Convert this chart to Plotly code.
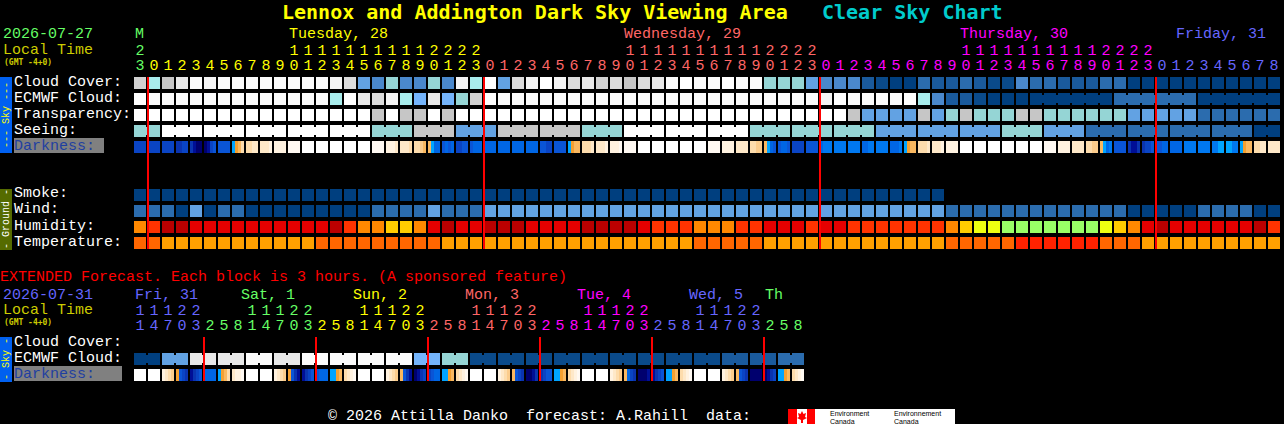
import plotly.graph_objects as go

W, H = 1284, 424
MONO = "Liberation Mono"
TITLE_FONT = "DejaVu Sans Mono"
BLUE, GREEN, YELLOW, RED, MAGENTA = "#6666ff", "#66ff66", "#ffff00", "#ff6666", "#ff00ff"
OLIVE_TEXT = "#cccc00"

# ---- level palettes ----
CLOUD_COLORS = ["#003f7f", "#0a4a8a", "#1a5a9c", "#2b6cae", "#4a88cc", "#62a2e3", "#74b4fb", "#95d5d5",
                "#a8ecec", "#c6c6c6", "#d2d2d2", "#dcdcdc", "#e8e8e8", "#f4f4f4", "#fbfbfb", "#ffffff"]
HUMID_COLORS = ["#99ff66", "#eeff11", "#ffcc00", "#ff8800", "#ff3300", "#e50000", "#bb0000"]
TEMP_COLORS = ["#ffa000", "#ff6600", "#ff2200"]
DARK_COLORS = ["#00006e", "#000f96", "#0a34b0", "#0a44c4", "#0a55d6", "#0066e4", "#0078f0", "#00a4ff",
               "#f5a030", "#f9b860", "#fbcc8c", "#fddcac", "#fee8c8", "#fff2e0", "#fff9f2", "#ffffff"]

# ---- main forecast (one block per hour) ----
cloud_cover = [10, 8, 9, 12, 14, 13, 14, 14, 14, 14, 14, 14, 14, 14, 13, 11, 5, 4, 7, 4, 4, 7, 4, 13, 8, 15, 5, 11, 13, 15,
               13, 11, 12, 10, 11, 9, 11, 12, 14, 15, 14, 14, 15, 14, 14, 7, 7, 7, 5, 4, 4, 4, 2, 1, 0, 0, 3, 2, 2, 3,
               2, 1, 1, 4, 3, 3, 2, 2, 2, 3, 3, 0, 0, 0, 0, 0, 0, 0, 0, 0, 0, 0]
ecmwf_cloud = [15, 14, 14, 14, 14, 14, 14, 14, 14, 14, 14, 14, 14, 14, 8, 15, 12, 11, 13, 8, 6, 12, 6, 7, 10, 15, 14, 14, 14, 14,
               14, 14, 14, 14, 14, 14, 14, 14, 14, 14, 14, 14, 14, 14, 14, 14, 14, 14, 14, 13, 15, 14, 14, 14, 14, 15, 8, 4, 2, 2,
               1, 0, 0, 0, 0, 0, 0, 0, 0, 0, 3, 3, 3, 3, 3, 3, 0, 0, 0, 0, 0, 0]
transparency = [15, 15, 15, 15, 15, 15, 15, 15, 15, 15, 15, 15, 15, 15, 15, 15, 15, 9, 15, 9, 9, 15, 9, 15, 15, 15, 15, 15, 15, 15,
                15, 15, 15, 15, 15, 15, 15, 15, 15, 15, 15, 15, 15, 15, 15, 15, 15, 15, 15, 15, 15, 9, 5, 5, 5, 5, 9, 5, 7, 9,
                7, 7, 7, 9, 9, 7, 7, 7, 7, 7, 7, 5, 5, 5, 5, 5, 3, 3, 3, 3, 3, 3]
seeing = [7, 7, 15, 15, 15, 15, 15, 15, 15, 15, 15, 15, 15, 15, 15, 15, 15, 7, 7, 7, 9, 9, 9, 5, 5, 5, 9, 9, 9, 9,
          9, 9, 7, 7, 7, 15, 15, 15, 15, 15, 15, 15, 15, 15, 7, 7, 7, 7, 7, 7, 7, 7, 7, 5, 5, 5, 5, 5, 5, 5,
          5, 5, 7, 7, 7, 5, 5, 5, 3, 3, 3, 3, 3, 3, 3, 3, 3, 3, 3, 3, 0, 0]
seeing_groups = [(0, 1), (2, 4), (5, 7), (8, 10), (11, 13), (14, 16), (17, 19), (20, 22), (23, 25), (26, 28), (29, 31),
                 (32, 34), (35, 37), (38, 40), (41, 43), (44, 46), (47, 49), (50, 52), (53, 55), (56, 58), (59, 61),
                 (62, 64), (65, 67), (68, 70), (71, 73), (74, 76), (77, 79), (80, 81)]
ecmwf_groups = [(64, 69), (70, 75), (76, 81)]
darkness = ["3333", "3333", "3333", "2233", "2100", "0134", "4444", "789b", "bbcc", "cccd", "dddd", "eeee", "ffff", "ffff",
            "ffff", "ffff", "ffff", "eeee", "dddc", "cccb", "bba9", "9755", "4545", "3344", "4555", "5555", "5555", "5555",
            "5555", "4433", "4444", "7899", "bbbc", "cccd", "ddde", "eeee", "ffff", "ffff", "ffff", "ffff", "ffff", "eeee",
            "dddd", "cccc", "bbaa", "9754", "4554", "3333", "4444", "5666", "6666", "6666", "5566", "6666", "5556", "7899",
            "bbbc", "cccd", "dddd", "ffff", "ffff", "ffff", "ffff", "ffff", "ffff", "eeee", "dddd", "cccc", "bbaa", "9756",
            "4444", "2112", "2334", "4455", "5555", "6666", "6666", "6677", "7766", "7899", "bbcc", "cccc"]
smoke = [0, 0, 0, 0, 0, 0, 0, 0, 0, 0, 0, 0, 0, 0, 0, 0, 0, 0, 0, 0, 0, 0, 0, 0, 0, 0, 0, 0, 0, 0,
         0, 0, 0, 0, 0, 0, 0, 0, 0, 0, 0, 0, 0, 0, 0, 0, 0, 0, 0, 0, 0, 0, 0, 0, 0, 0, 0, 0]
wind = [3, 3, 3, 0, 5, 0, 3, 3, 0, 0, 0, 0, 0, 0, 0, 0, 0, 3, 3, 3, 3, 5, 3, 3, 3, 5, 5, 5, 5, 5,
        5, 5, 5, 5, 5, 5, 5, 5, 5, 5, 5, 5, 5, 5, 5, 5, 5, 5, 5, 5, 5, 5, 5, 5, 5, 5, 5, 5, 3, 3,
        3, 3, 3, 3, 3, 3, 3, 3, 3, 3, 3, 0, 0, 0, 0, 0, 3, 3, 3, 3, 0, 0]
humidity = [3, 4, 6, 6, 5, 5, 5, 5, 5, 5, 5, 5, 5, 5, 6, 4, 3, 3, 2, 2, 3, 5, 6, 5, 5, 6, 6, 6, 5, 5,
            5, 5, 6, 6, 6, 6, 5, 4, 4, 4, 3, 3, 3, 4, 4, 5, 5, 5, 4, 5, 5, 4, 4, 4, 4, 4, 4, 4, 3, 2,
            1, 1, 0, 0, 0, 0, 0, 0, 0, 1, 2, 3, 5, 6, 5, 5, 5, 5, 5, 5, 6, 4]
temperature = [1, 1, 0, 0, 0, 0, 0, 0, 0, 0, 0, 0, 0, 1, 1, 1, 1, 1, 1, 1, 1, 1, 0, 0, 0, 0, 0, 0, 0, 0,
               0, 0, 0, 0, 0, 0, 0, 0, 0, 0, 1, 1, 1, 1, 1, 0, 0, 0, 0, 0, 0, 0, 0, 0, 0, 0, 0, 0, 1, 1,
               1, 1, 1, 2, 2, 2, 2, 2, 2, 1, 1, 1, 0, 0, 0, 0, 0, 0, 0, 0, 0, 0]
hour_units = list("3012345678901234567890123012345678901234567890123012345678901234567890123012345678")
hour_tens = list("2          11111111112222          11111111112222          11111111112222         ")[:82]
hour_day = [1] + [2] * 24 + [3] * 24 + [4] * 24 + [0] * 9
midnights = [1, 25, 49, 73]

# ---- extended forecast (one block per 3 hours) ----
ext_ecmwf = [0, 0, 5, 5, 12, 12, 12, 12, 14, 14, 12, 12, 14, 14, 14, 14, 14, 14, 14, 14, 6, 6, 7, 7,
             1, 1, 1, 1, 1, 1, 1, 1, 1, 1, 1, 1, 1, 1, 1, 1, 1, 1, 2, 2, 2, 2, 3, 3]
ext_groups = [(0, 1), (2, 3), (4, 5), (6, 7), (8, 9), (10, 11), (12, 13), (14, 15), (16, 17), (18, 19), (20, 21), (22, 23),
              (24, 25), (26, 27), (28, 29), (30, 31), (32, 33), (34, 35), (36, 37), (38, 39), (40, 41), (42, 43), (44, 45), (46, 47)]
ext_darkness = ["ffff", "ffff", "dcba", "8432", "1234", "5555", "789b", "cdde", "ffff", "ffff", "dcba", "8421",
                "1234", "4555", "7789", "bcde", "ffff", "ffff", "dcba", "9421", "0123", "3455", "7789", "bcde",
                "ffff", "ffff", "dcba", "9432", "0012", "2344", "7789", "bcde", "ffff", "ffff", "dcba", "9532",
                "0001", "1234", "7789", "bcde", "ffff", "ffff", "dcba", "9432", "0000", "0123", "7789", "bcde"]
ext_units = list("147032581470325814703258147032581470325814703258")
ext_tens = list("11122   11122   11122   11122   11122   11122    ")[:48]
ext_day = [0] * 5 + [1] * 8 + [2] * 8 + [3] * 8 + [4] * 8 + [0] * 8 + [1] * 3
ext_midnights = [5, 13, 21, 29, 37, 45]

DAY_COLORS = [BLUE, GREEN, YELLOW, RED, MAGENTA]


# ---- pixel helpers: 14 px per column, 16 px per row ----
def row_of(py):
    return (py - 83) / 16


def col_of(px):
    return (px - 140) / 14


def scale(colors):
    n = len(colors)
    out = []
    for i, c in enumerate(colors):
        out += [[i / n, c], [(i + 1) / n, c]]
    return out


fig = go.Figure()


def add_row(values, py, colors):
    fig.add_trace(go.Heatmap(z=[values], x=list(range(len(values))), y=[row_of(py)], xgap=2, ygap=4,
                             colorscale=scale(colors), zmin=-0.5, zmax=len(colors) - 0.5,
                             showscale=False, hoverinfo="skip"))


def add_links(values, groups, py, colors):
    for level in sorted({values[a] for a, _ in groups}):
        xs, ys = [], []
        for a, b in groups:
            if values[a] == level:
                xs += [a, b, None]
                ys += [row_of(py), row_of(py), None]
        fig.add_trace(go.Scatter(x=xs, y=ys, mode="lines", line=dict(color=colors[level], width=8),
                                 hoverinfo="skip", showlegend=False))


def add_darkness(cells, py):
    edges, z = [], []
    for col, cell in enumerate(cells):
        for k in range(4):
            edges.append(col - 6 / 14 + k * 3 / 14)
            z.append(int(cell[k], 16))
        edges.append(col + 6 / 14)
        z.append(None)
    edges.append(len(cells) - 6 / 14)
    fig.add_trace(go.Heatmap(z=[z], x=edges, y=[row_of(py)], ygap=4, colorscale=scale(DARK_COLORS),
                             zmin=-0.5, zmax=15.5, showscale=False, hoverinfo="skip"))


def add_text_row(labels, day_colors, py):
    xs = [i for i, t in enumerate(labels) if t.strip()]
    fig.add_trace(go.Scatter(x=xs, y=[row_of(py)] * len(xs), mode="text", text=[labels[i] for i in xs],
                             textposition="middle center", hoverinfo="skip", showlegend=False,
                             textfont=dict(family=MONO, size=15, color=[day_colors[i] for i in xs])))


add_row(cloud_cover, 83, CLOUD_COLORS)
add_row(ecmwf_cloud, 99, CLOUD_COLORS)
add_row(transparency, 115, CLOUD_COLORS)
add_row(seeing, 131, CLOUD_COLORS)
add_darkness(darkness, 147)
add_row(smoke, 195, CLOUD_COLORS)
add_row(wind, 211, CLOUD_COLORS)
add_row(humidity, 227, HUMID_COLORS)
add_row(temperature, 243, TEMP_COLORS)
add_row(ext_ecmwf, 359, CLOUD_COLORS)
add_darkness(ext_darkness, 375)

add_links(seeing, seeing_groups, 131, CLOUD_COLORS)
add_links(ecmwf_cloud, ecmwf_groups, 99, CLOUD_COLORS)
add_links(ext_ecmwf, ext_groups, 359, CLOUD_COLORS)

red_x, red_y = [], []
for m in midnights:
    red_x += [m - 6 / 14, m - 6 / 14, None]
    red_y += [row_of(77), row_of(249), None]
for m in ext_midnights:
    red_x += [m - 6 / 14, m - 6 / 14, None]
    red_y += [row_of(337), row_of(381), None]
fig.add_trace(go.Scatter(x=red_x, y=red_y, mode="lines", line=dict(color="#ff0000", width=2),
                         hoverinfo="skip", showlegend=False))

top_cols = [DAY_COLORS[d] for d in hour_day]
add_text_row(hour_tens, top_cols, 51)
add_text_row(hour_units, top_cols, 66)
ext_cols = [DAY_COLORS[d] for d in ext_day]
add_text_row(ext_tens, ext_cols, 311)
add_text_row(ext_units, ext_cols, 326)

annotations = []


def label(text, x, y, color="#ffffff", size=15, family=MONO, bold=False, anchor="left", angle=0):
    annotations.append(dict(text=f"<b>{text}</b>" if bold else text, x=x / W, y=1 - y / H, xref="paper", yref="paper",
                            xanchor=anchor, yanchor="middle", showarrow=False, textangle=angle, borderpad=0,
                            font=dict(family=family, size=size, color=color)))


label("Lennox and Addington Dark Sky Viewing Area", 281, 12, "#ffff00", 20, TITLE_FONT, True)
label("Clear Sky Chart", 821, 12, "#00cccc", 20, TITLE_FONT, True)

label("2026-07-27", 2, 35, GREEN)
label("Local Time", 2, 50, OLIVE_TEXT)
label("(GMT -4+0)", 3, 62, OLIVE_TEXT, 8, "DejaVu Sans Mono", True)
label("M", 134, 35, GREEN)
label("Tuesday, 28", 288, 35, YELLOW)
label("Wednesday, 29", 623, 35, RED)
label("Thursday, 30", 959, 35, MAGENTA)
label("Friday, 31", 1175, 35, BLUE)

for text, y in [("Cloud Cover:", 82), ("ECMWF Cloud:", 98), ("Transparency:", 114), ("Seeing:", 130),
                ("Smoke:", 194), ("Wind:", 210), ("Humidity:", 226), ("Temperature:", 242),
                ("Cloud Cover:", 342), ("ECMWF Cloud:", 358)]:
    label(text, 13, y)
label("Darkness:", 13, 146, "#1f3fa0")
label("Darkness:", 13, 374, "#1f3fa0")

label("EXTENDED Forecast. Each block is 3 hours. (A sponsored feature)", -1, 277, "#ff0000")
label("2026-07-31", 2, 295, BLUE)
label("Local Time", 2, 310, OLIVE_TEXT)
label("(GMT -4+0)", 3, 322, OLIVE_TEXT, 8, "DejaVu Sans Mono", True)
for text, x, color in [("Fri, 31", 134, BLUE), ("Sat, 1", 240, GREEN), ("Sun, 2", 352, YELLOW), ("Mon, 3", 464, RED),
                       ("Tue, 4", 576, MAGENTA), ("Wed, 5", 688, BLUE), ("Th", 764, GREEN)]:
    label(text, x, 295, color)

label("--- Sky ---", 6, 115, "#ffff00", 10, MONO, False, "center", -90)
label("- Ground -", 6, 219, "#ffffff", 10, MONO, False, "center", -90)
label("- Sky -", 6, 359, "#ffff00", 10, MONO, False, "center", -90)

label("© 2026 Attilla Danko  forecast: A.Rahill  data:", 327, 416)
label("Environment", 829, 413, "#000000", 7, "Liberation Sans")
label("Canada", 829, 421, "#000000", 7, "Liberation Sans")
label("Environnement", 893, 413, "#000000", 7, "Liberation Sans")
label("Canada", 893, 421, "#000000", 7, "Liberation Sans")


def rect(x0, y0, x1, y1, color):
    return dict(type="rect", xref="paper", yref="paper", x0=x0 / W, x1=x1 / W, y0=1 - y0 / H, y1=1 - y1 / H,
                fillcolor=color, line=dict(width=0), layer="below")


leaf = [(802, 411), (803.5, 414), (806, 413), (805, 417), (807, 418), (803, 420), (803, 423), (801, 423), (801, 420),
        (797, 418), (799, 417), (798, 413), (800.5, 414)]
leaf_path = "M" + " L".join(f"{x / W},{1 - y / H}" for x, y in leaf) + " Z"
shapes = [
    rect(0, 77, 12, 153, "#0060f0"),
    rect(0, 189, 12, 250, "#556b00"),
    rect(0, 337, 12, 382, "#0060f0"),
    rect(14, 138, 104, 153, "#808080"),
    rect(14, 366, 122, 381, "#808080"),
    rect(788, 409, 955, 424, "#ffffff"),
    rect(788, 409, 797, 424, "#ff0000"),
    rect(807, 409, 815, 424, "#ff0000"),
    dict(type="path", xref="paper", yref="paper", path=leaf_path, fillcolor="#ff0000", line=dict(width=0), layer="below"),
]

fig.update_layout(
    width=W, height=H, margin=dict(l=0, r=0, t=0, b=0), autosize=False,
    paper_bgcolor="#000000", plot_bgcolor="rgba(0,0,0,0)", showlegend=False,
    xaxis=dict(range=[col_of(0), col_of(W)], visible=False, fixedrange=True),
    yaxis=dict(range=[row_of(H), row_of(0)], visible=False, fixedrange=True),
    annotations=annotations, shapes=shapes,
)
fig.write_html("out.html", config=dict(displayModeBar=False),
               post_script="document.body.style.margin='0';document.body.style.background='#000';document.body.style.overflow='hidden';")
